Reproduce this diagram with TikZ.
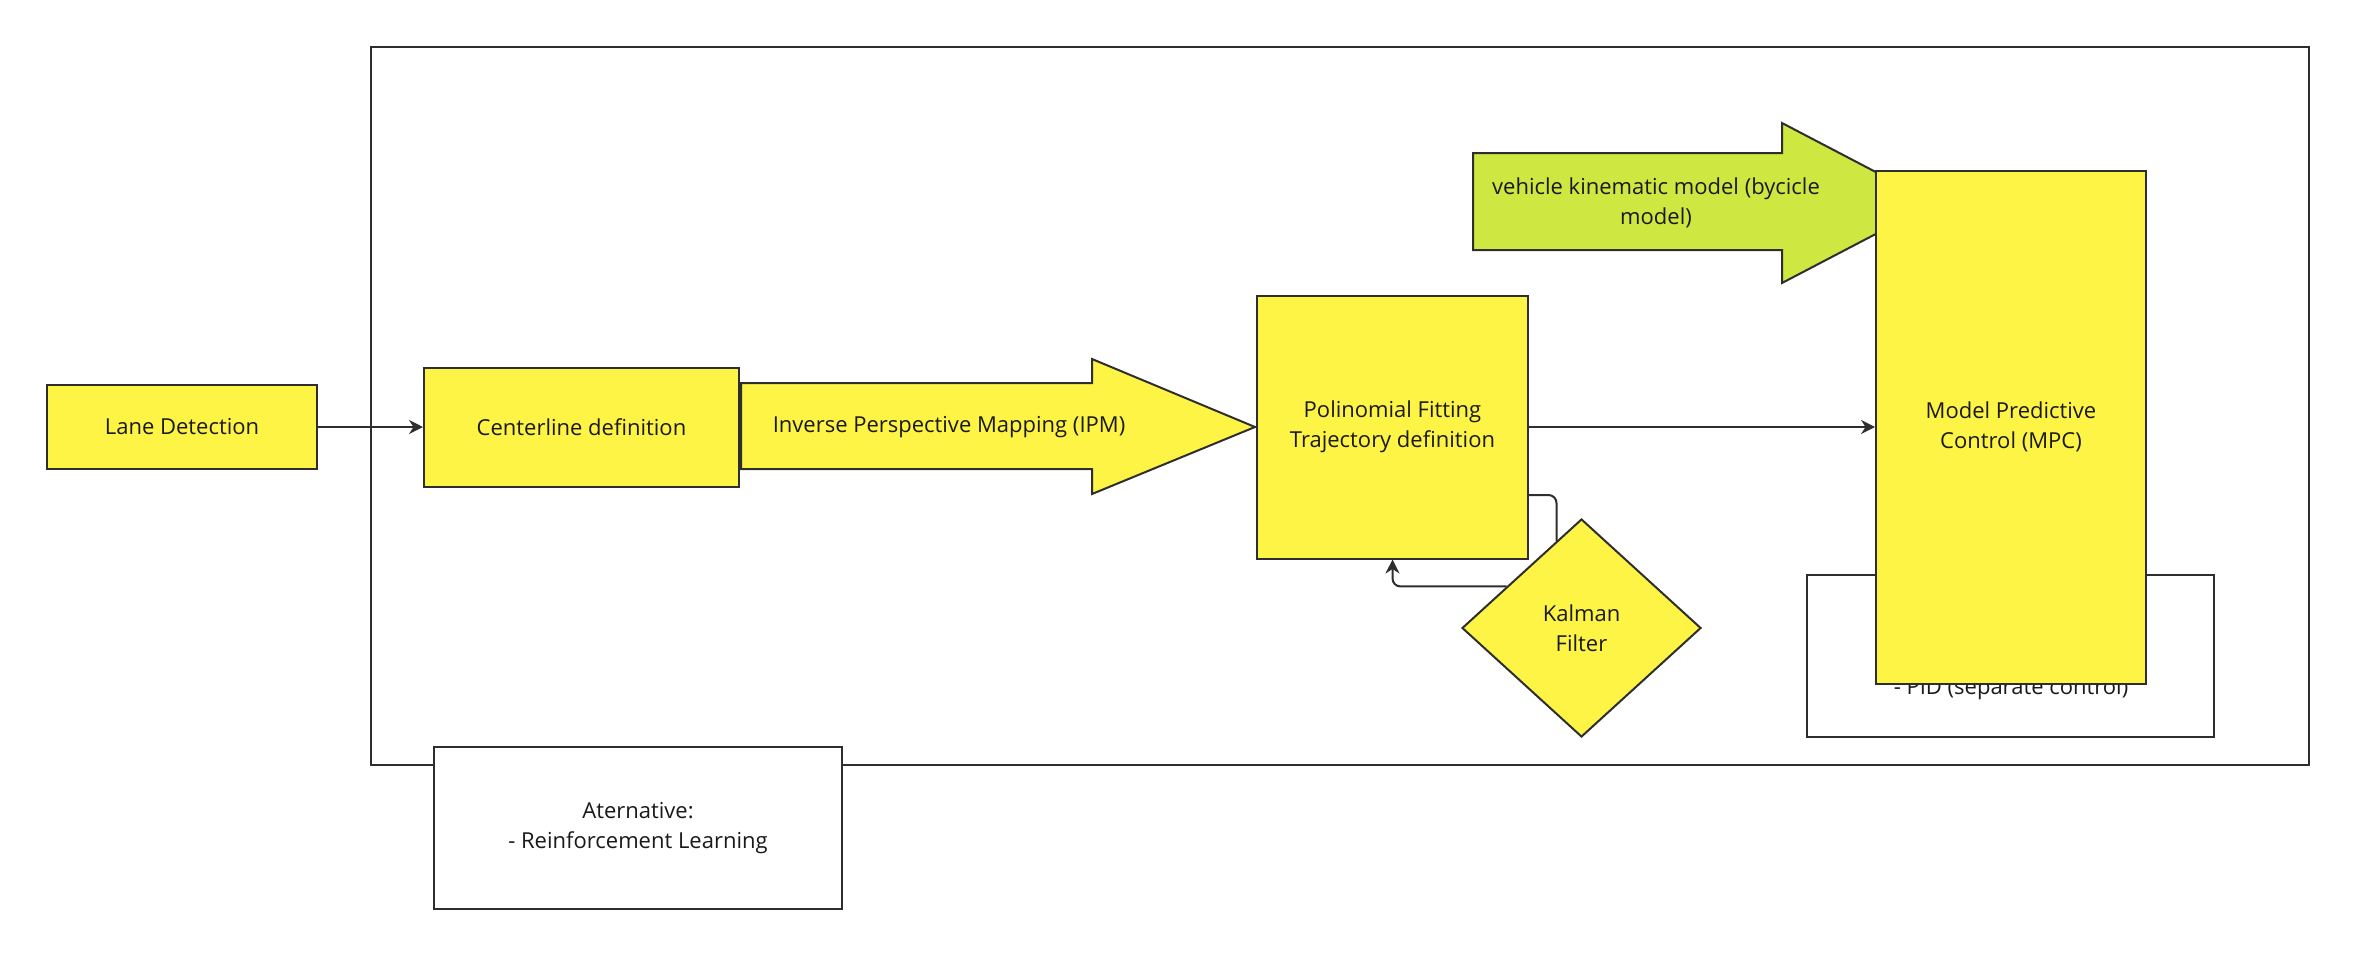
\documentclass[tikz,border=0pt]{standalone}
\usepackage{fontspec}
\setmainfont{Open Sans}
\usetikzlibrary{shapes.geometric,arrows.meta,calc}
\definecolor{myyellow}{HTML}{FEF445}
\definecolor{mygreen}{HTML}{CEE741}
\definecolor{myline}{HTML}{2E2E2E}
\definecolor{mytext}{HTML}{1A1A1A}
\begin{document}
\begin{tikzpicture}[x=0.5pt,y=-0.5pt,
  font=\fontsize{11}{15}\selectfont,
  every node/.style={text=mytext, align=center, inner sep=0pt},
  ybox/.style={draw=myline, line width=1pt, fill=myyellow, rectangle},
  wbox/.style={draw=myline, line width=1pt, fill=white, rectangle},
  frame/.style={draw=myline, line width=1pt, rectangle},
  ydia/.style={draw=myline, line width=1pt, fill=myyellow, diamond},
  bigarrow/.style={draw=myline, line width=1pt, line join=miter},
  conn/.style={draw=myline, line width=1pt},
  tip/.style={-{Stealth[length=7pt,width=7pt]}}
]
\useasboundingbox (0,0) rectangle (2356,954);

% outer frame
\node[frame, minimum width=969pt, minimum height=359pt] (frame) at (1340,406) {};

% alternative box
\node[wbox, minimum width=204pt, minimum height=81pt] (alt) at (638,828)
  {Aternative:\\- Reinforcement Learning};

% lane detection and centerline
\node[ybox, minimum width=135pt, minimum height=42pt] (lane) at (182,427) {Lane Detection};
\node[ybox, minimum width=157.5pt, minimum height=59.5pt] (center) at (581.5,427) {Centerline definition};

% IPM arrow
\draw[bigarrow, fill=myyellow] (741,383) -- (1092,383) -- (1092,359) -- (1255,427)
  -- (1092,494) -- (1092,469) -- (741,469) -- cycle;
\node (ipm) at (949,427) {Inverse Perspective Mapping (IPM)};

% polynomial fitting
\node[ybox, minimum width=135.5pt, minimum height=131.5pt] (poly) at (1392.5,427)
  {Polinomial Fitting\\Trajectory definition};

% Kalman filter
\node[ydia, minimum width=119.5pt, minimum height=109pt] (kal) at (1581.5,628) {Kalman\\Filter};

% vehicle model arrow
\draw[bigarrow, fill=mygreen] (1473,153) -- (1782,153) -- (1782,123) -- (1935,203)
  -- (1782,283) -- (1782,250) -- (1473,250) -- cycle;
\node (veh) at (1656,203) {vehicle kinematic model (bycicle\\model)};

% PID box (behind MPC)
\node[wbox, minimum width=203.5pt, minimum height=81pt] (pid) at (2010.5,656) {};
\node[anchor=base] (pidtext) at (2011,694) {- PID (separate control)};

% MPC
\node[ybox, minimum width=135pt, minimum height=256.5pt] (mpc) at (2011,427)
  {Model Predictive\\Control (MPC)};

% connectors
\draw[conn, tip] (lane.east) -- (lane.east -| center.west);
\draw[conn, tip] (poly.east) -- (poly.east -| mpc.west);
\coordinate (kin) at (1556,495);
\draw[conn, rounded corners=4pt] (poly.east |- kin) -| (kal.106.6);
\draw[conn, tip, rounded corners=4pt] (kal.151.2) -| (poly.south);
\end{tikzpicture}
\end{document}
